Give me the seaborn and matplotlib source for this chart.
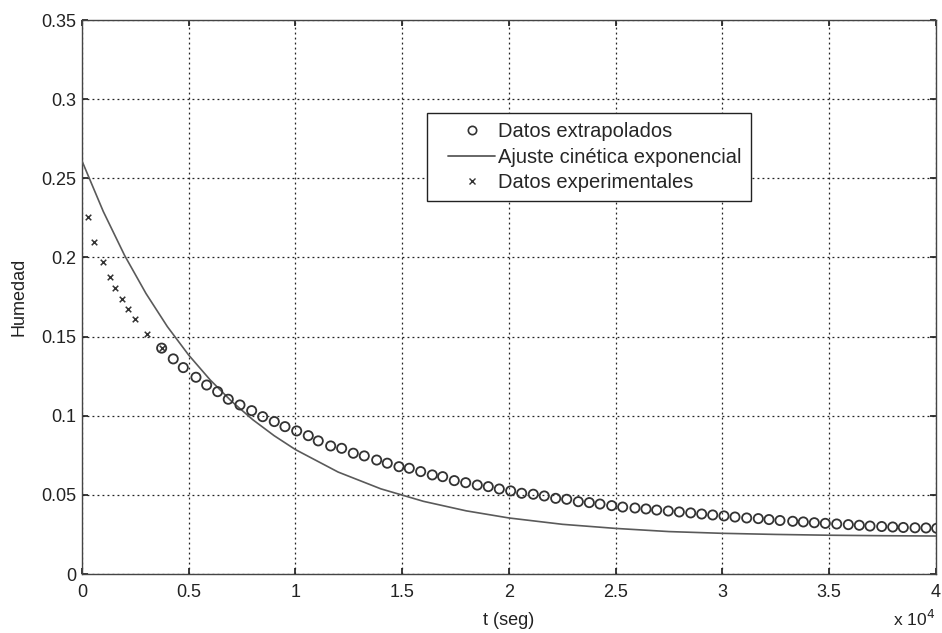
import matplotlib
matplotlib.use("Agg")
import matplotlib.pyplot as plt
from matplotlib.lines import Line2D
from matplotlib.legend_handler import HandlerLine2D
import seaborn as sns
import pandas as pd

# ---- data ----
cross_t = [295, 576, 998, 1312, 1546, 1860, 2169, 2483, 3059, 3733]
cross_h = [0.2258, 0.2100, 0.1974, 0.1879, 0.1809, 0.1736, 0.1673, 0.1612, 0.1515, 0.1427]

circ_t = [3733, 4276, 4745, 5340, 5841, 6356, 6853, 7401, 7949, 8464,
          9008, 9509, 10057, 10600, 11068, 11649, 12164, 12708, 13223, 13804,
          14300, 14848, 15331, 15865, 16408, 16895, 17439, 17973, 18516, 19031,
          19547, 20080, 20596, 21139, 21654, 22188, 22704, 23247, 23762, 24263,
          24811, 25326, 25902, 26418, 26919, 27462, 27978, 28512, 29027, 29542,
          30071, 30586, 31134, 31678, 32179, 32694, 33289, 33786, 34301, 34816,
          35350, 35894, 36409, 36910, 37458, 37974, 38470, 39018, 39533, 40034]
circ_h = [0.1427, 0.1359, 0.1304, 0.1243, 0.1194, 0.1152, 0.1104, 0.1068, 0.1032, 0.0994,
          0.0963, 0.0931, 0.0904, 0.0874, 0.0841, 0.0809, 0.0794, 0.0763, 0.0746, 0.0720,
          0.0700, 0.0678, 0.0668, 0.0647, 0.0626, 0.0615, 0.0590, 0.0577, 0.0562, 0.0552,
          0.0537, 0.0525, 0.0510, 0.0504, 0.0493, 0.0478, 0.0472, 0.0457, 0.0451, 0.0442,
          0.0432, 0.0423, 0.0417, 0.0411, 0.0404, 0.0398, 0.0392, 0.0386, 0.0379, 0.0373,
          0.0367, 0.0360, 0.0354, 0.0350, 0.0344, 0.0338, 0.0333, 0.0329, 0.0324, 0.0320,
          0.0316, 0.0312, 0.0308, 0.0303, 0.0300, 0.0297, 0.0294, 0.0292, 0.0291, 0.0289]

fit_t = [0, 1000, 2000, 3000, 4000, 5000, 6000, 7000, 8000, 9000, 10000,
         12000, 14000, 16000, 18000, 20000, 22500, 25000, 27500, 30000,
         32500, 35000, 37500, 40000]
fit_h = [0.2610, 0.2290, 0.2012, 0.1772, 0.1563, 0.1383, 0.1227, 0.1092, 0.0975, 0.0874, 0.0786,
         0.0644, 0.0538, 0.0459, 0.0399, 0.0354, 0.0314, 0.0288, 0.0268, 0.0257,
         0.0250, 0.0245, 0.0242, 0.0240]

x_ticks = [0, 5000, 10000, 15000, 20000, 25000, 30000, 35000, 40000]
x_ticklabels = ["0", "0.5", "1", "1.5", "2", "2.5", "3", "3.5", "4"]
y_ticks = [0, 0.05, 0.1, 0.15, 0.2, 0.25, 0.3, 0.35]
y_ticklabels = ["0", "0.05", "0.1", "0.15", "0.2", "0.25", "0.3", "0.35"]

legend_labels = ["Datos extrapolados", "Ajuste cinética exponencial", "Datos experimentales"]

# ---- style ----
sns.set_theme(style="white")
plt.rcParams["font.family"] = ["Liberation Sans", "DejaVu Sans"]

fig = plt.figure(figsize=(9.42, 6.33), dpi=100)
ax = fig.add_axes([0.087, 0.0932, 0.9066, 0.8752])

dark = "#333333"
line_c = "#5a5a5a"
txt = "#222222"

df_fit = pd.DataFrame({"t": fit_t, "h": fit_h})
df_circ = pd.DataFrame({"t": circ_t, "h": circ_h})
df_cross = pd.DataFrame({"t": cross_t, "h": cross_h})

sns.lineplot(data=df_fit, x="t", y="h", ax=ax, color=line_c, linewidth=1.2, zorder=3)
sns.scatterplot(data=df_circ, x="t", y="h", ax=ax, marker="o", s=44, color=dark, zorder=4)
coll = ax.collections[-1]
coll.set_facecolor("none")
coll.set_edgecolor(dark)
coll.set_linewidth(1.3)
sns.scatterplot(data=df_cross, x="t", y="h", ax=ax, marker="x", s=16, color=dark,
                linewidth=1.1, zorder=4)

ax.set_xlim(0, 40000)
ax.set_ylim(0, 0.35)
ax.set_xticks(x_ticks)
ax.set_xticklabels(x_ticklabels)
ax.set_yticks(y_ticks)
ax.set_yticklabels(y_ticklabels)
ax.grid(True, color="#222222", linestyle=(0, (1.5, 2.5)), linewidth=0.9)
ax.set_axisbelow(True)
ax.tick_params(axis="both", direction="in", length=4, labelsize=13, colors=txt,
               top=True, right=True, bottom=True, left=True)
ax.tick_params(axis="x", pad=7)
ax.tick_params(axis="y", pad=4)
for s in ax.spines.values():
    s.set_color("#444444")
    s.set_linewidth(1.0)

ax.set_xlabel("t (seg)", fontsize=13, color=txt, labelpad=8)
ax.set_ylabel("Humedad", fontsize=13, color=txt, labelpad=10)
fig.text(0.948, 0.006, r"x 10$^4$", fontsize=12.5, color=txt, ha="left", va="bottom")

handles = [
    Line2D([], [], marker="o", linestyle="none", markerfacecolor="none",
           markeredgecolor=dark, markersize=6, markeredgewidth=1.2),
    Line2D([], [], color=line_c, linewidth=1.3),
    Line2D([], [], marker="x", linestyle="none", color=dark, markersize=4.5,
           markeredgewidth=1.0),
]
shift = HandlerLine2D(xpad=0.6)
leg = ax.legend(handles, legend_labels, loc="upper left", bbox_to_anchor=(0.4037, 0.832),
                fontsize=14.5, frameon=True, fancybox=False, framealpha=1,
                edgecolor="#222222", handlelength=2.95, handletextpad=0.15,
                borderpad=0.45, labelspacing=0.32, borderaxespad=0,
                handler_map={h: shift for h in handles})
leg.get_frame().set_linewidth(1.0)

fig.savefig("out.png", dpi=100)
